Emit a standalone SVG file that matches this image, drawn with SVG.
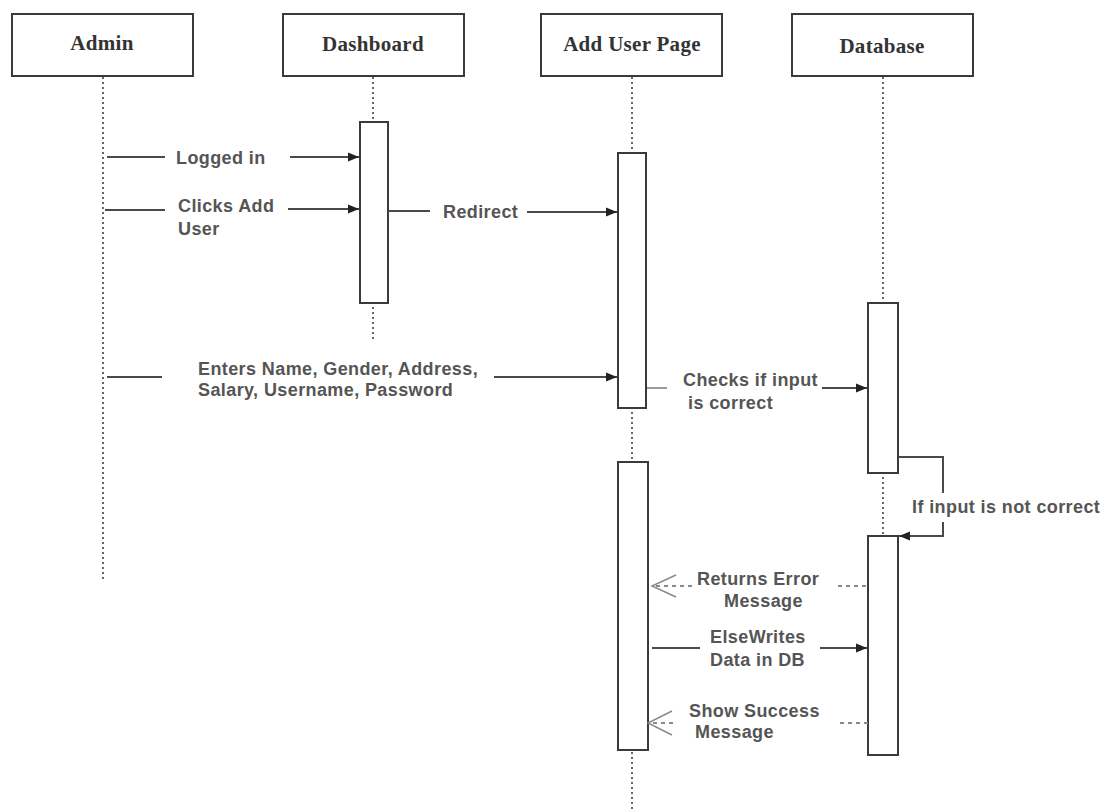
<svg xmlns="http://www.w3.org/2000/svg" width="1112" height="811" viewBox="0 0 1112 811">
  <style>
    .actor { fill: #ffffff; stroke: #3a3a3a; stroke-width: 2; }
    .actor-label { font-family: "Liberation Serif", serif; font-weight: bold; font-size: 21px; letter-spacing: 0.3px; fill: #333333; text-anchor: middle; }
    .life { stroke: #666666; stroke-width: 2; stroke-dasharray: 2 3; fill: none; }
    .act { fill: #ffffff; stroke: #3a3a3a; stroke-width: 2; }
    .msg { stroke: #4a4a4a; stroke-width: 2; fill: none; }
    .ret { stroke: #8a8a8a; stroke-width: 2; stroke-dasharray: 4 4; fill: none; }
    .open { stroke: #8a8a8a; stroke-width: 1.5; fill: none; }
    .lbl { font-family: "Liberation Sans", Arial, sans-serif; font-weight: bold; font-size: 18px; letter-spacing: 0.4px; fill: #555555; }
  </style>
  <defs>
    <marker id="solid" viewBox="0 0 10 10" refX="10" refY="5" markerWidth="11" markerHeight="11" markerUnits="userSpaceOnUse" orient="auto">
      <path d="M0,1 L10,5 L0,9 Z" fill="#222222"/>
    </marker>
  </defs>
  <rect width="1112" height="811" fill="#ffffff"/>

  <!-- Admin -->
  <g id="admin">
    <rect class="actor" x="12" y="14" width="181" height="62"/>
    <text class="actor-label" x="102" y="50">Admin</text>
    <line class="life" x1="103" y1="77" x2="103" y2="582"/>
  </g>

  <!-- Dashboard -->
  <g id="dashboard">
    <rect class="actor" x="283" y="14" width="181" height="62"/>
    <text class="actor-label" x="373" y="51">Dashboard</text>
    <line class="life" x1="373" y1="77" x2="373" y2="342"/>
    <rect class="act" x="360" y="122" width="28" height="181"/>
  </g>

  <!-- Add User Page -->
  <g id="add-user-page">
    <rect class="actor" x="541" y="14" width="181" height="62"/>
    <text class="actor-label" x="632" y="51">Add User Page</text>
    <line class="life" x1="632" y1="77" x2="632" y2="811"/>
    <rect class="act" x="618" y="153" width="28" height="255"/>
    <rect class="act" x="618" y="462" width="30" height="288"/>
  </g>

  <!-- Database -->
  <g id="database">
    <rect class="actor" x="792" y="14" width="181" height="62"/>
    <text class="actor-label" x="882" y="53">Database</text>
    <line class="life" x1="883" y1="77" x2="883" y2="537"/>
    <rect class="act" x="868" y="303" width="30" height="170"/>
    <rect class="act" x="868" y="536" width="30" height="219"/>
  </g>

  <!-- Messages -->
  <g id="connectors">
    <!-- Logged in -->
    <line class="msg" x1="107" y1="157" x2="165" y2="157"/>
    <line class="msg" x1="290" y1="157" x2="359" y2="157" marker-end="url(#solid)"/>
    <text class="lbl" x="176" y="164">Logged in</text>

    <!-- Clicks Add User -->
    <line class="msg" x1="105" y1="210" x2="165" y2="210"/>
    <line class="msg" x1="288" y1="209" x2="359" y2="209" marker-end="url(#solid)"/>
    <text class="lbl" x="178" y="212">Clicks Add</text>
    <text class="lbl" x="178" y="235">User</text>

    <!-- Redirect -->
    <line class="msg" x1="388" y1="211" x2="430" y2="211"/>
    <line class="msg" x1="527" y1="212" x2="617" y2="212" marker-end="url(#solid)"/>
    <text class="lbl" x="443" y="218">Redirect</text>

    <!-- Enters details -->
    <line class="msg" x1="107" y1="377" x2="162" y2="377"/>
    <line class="msg" x1="494" y1="377" x2="617" y2="377" marker-end="url(#solid)"/>
    <text class="lbl" x="198" y="375">Enters Name, Gender, Address,</text>
    <text class="lbl" x="198" y="396">Salary, Username, Password</text>

    <!-- Checks if input is correct -->
    <line x1="647" y1="388" x2="667" y2="388" stroke="#9a9a9a" stroke-width="2"/>
    <line class="msg" x1="822" y1="388" x2="867" y2="388" marker-end="url(#solid)"/>
    <text class="lbl" x="683" y="386">Checks if input</text>
    <text class="lbl" x="688" y="409">is correct</text>

    <!-- Self call: input not correct -->
    <polyline class="msg" points="899,457 943,457 943,493"/>
    <polyline class="msg" points="943,522 943,536 899,536" marker-end="url(#solid)"/>
    <text class="lbl" x="912" y="513">If input is not correct</text>

    <!-- Returns Error Message -->
    <line class="ret" x1="866" y1="586" x2="834" y2="586"/>
    <line class="ret" x1="692" y1="586" x2="656" y2="586"/>
    <polyline class="open" points="676,575 652,586 676,597"/>
    <text class="lbl" x="697" y="585">Returns Error</text>
    <text class="lbl" x="724" y="607">Message</text>

    <!-- ElseWrites Data in DB -->
    <line class="msg" x1="652" y1="648" x2="700" y2="648"/>
    <line class="msg" x1="820" y1="648" x2="867" y2="648" marker-end="url(#solid)"/>
    <text class="lbl" x="710" y="643">ElseWrites</text>
    <text class="lbl" x="710" y="666">Data in DB</text>

    <!-- Show Success Message -->
    <line class="ret" x1="868" y1="723" x2="840" y2="723"/>
    <line class="ret" x1="673" y1="723" x2="652" y2="723"/>
    <polyline class="open" points="672,711 648,723 672,735"/>
    <text class="lbl" x="689" y="717">Show Success</text>
    <text class="lbl" x="695" y="738">Message</text>
  </g>
</svg>
